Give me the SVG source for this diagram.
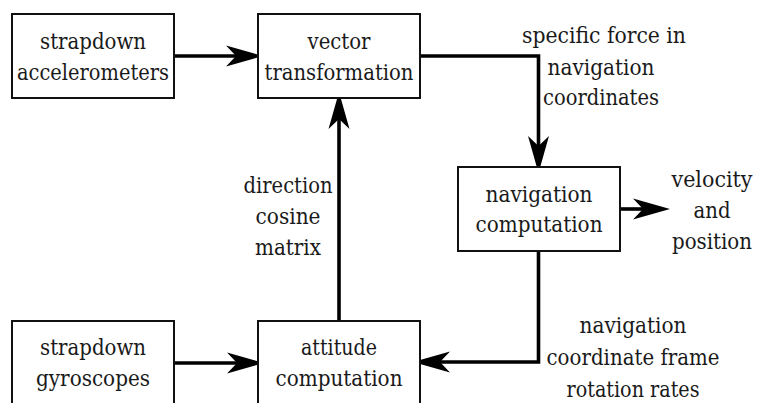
<svg xmlns="http://www.w3.org/2000/svg" width="760" height="403" viewBox="0 0 760 403">
  <style>
    .box { fill: #ffffff; stroke: #111111; stroke-width: 2; }
    .lbl { font-family: 'DejaVu Serif', 'Liberation Serif', 'Times New Roman', serif; font-size: 23px; fill: #1a1a1a; text-anchor: middle; }
    .wire { fill: none; stroke: #000000; stroke-width: 3.6; stroke-linejoin: miter; }
  </style>
  <defs>
    <!-- barbed arrowhead; origin sits at the notch where the line ends -->
    <marker id="arrow" markerUnits="userSpaceOnUse" viewBox="-12 -12 40 24" markerWidth="40" markerHeight="24" refX="0" refY="0" orient="auto">
      <path d="M27,0 L-10,-10.5 L0,0 L-10,10.5 Z" fill="#000000"/>
    </marker>
  </defs>

  <rect width="760" height="403" fill="#ffffff"/>

  <g id="connectors">
    <path class="wire" d="M174,56 H236" marker-end="url(#arrow)"/>
    <path class="wire" d="M174,363 H237" marker-end="url(#arrow)"/>
    <path class="wire" d="M420,56 H538.5 V146" marker-end="url(#arrow)"/>
    <path class="wire" d="M538.5,251 V362 H440" marker-end="url(#arrow)"/>
    <path class="wire" d="M339,321 V119" marker-end="url(#arrow)"/>
    <path class="wire" d="M621,209 H643" marker-end="url(#arrow)"/>
  </g>

  <g id="strapdown-accelerometers">
    <rect class="box" x="12" y="14" width="162" height="84"/>
    <text class="lbl" x="93" y="49" textLength="106" lengthAdjust="spacingAndGlyphs">strapdown</text>
    <text class="lbl" x="93" y="80" textLength="152" lengthAdjust="spacingAndGlyphs">accelerometers</text>
  </g>

  <g id="vector-transformation">
    <rect class="box" x="258" y="14" width="162" height="84"/>
    <text class="lbl" x="339" y="49" textLength="63" lengthAdjust="spacingAndGlyphs">vector</text>
    <text class="lbl" x="339" y="80" textLength="149" lengthAdjust="spacingAndGlyphs">transformation</text>
  </g>

  <g id="navigation-computation">
    <rect class="box" x="458" y="167" width="162" height="84"/>
    <text class="lbl" x="539" y="202" textLength="107" lengthAdjust="spacingAndGlyphs">navigation</text>
    <text class="lbl" x="539" y="232" textLength="127" lengthAdjust="spacingAndGlyphs">computation</text>
  </g>

  <g id="strapdown-gyroscopes">
    <rect class="box" x="12" y="321" width="162" height="84"/>
    <text class="lbl" x="93" y="355" textLength="106" lengthAdjust="spacingAndGlyphs">strapdown</text>
    <text class="lbl" x="93" y="386" textLength="114" lengthAdjust="spacingAndGlyphs">gyroscopes</text>
  </g>

  <g id="attitude-computation">
    <rect class="box" x="258" y="321" width="162" height="84"/>
    <text class="lbl" x="339" y="355" textLength="76" lengthAdjust="spacingAndGlyphs">attitude</text>
    <text class="lbl" x="339" y="386" textLength="127" lengthAdjust="spacingAndGlyphs">computation</text>
  </g>

  <g id="labels">
    <text class="lbl" x="604" y="43" textLength="164" lengthAdjust="spacingAndGlyphs">specific force in</text>
    <text class="lbl" x="601" y="75" textLength="107" lengthAdjust="spacingAndGlyphs">navigation</text>
    <text class="lbl" x="601" y="105" textLength="116" lengthAdjust="spacingAndGlyphs">coordinates</text>

    <text class="lbl" x="712" y="187" textLength="81" lengthAdjust="spacingAndGlyphs">velocity</text>
    <text class="lbl" x="712" y="218" textLength="37" lengthAdjust="spacingAndGlyphs">and</text>
    <text class="lbl" x="712" y="249" textLength="80" lengthAdjust="spacingAndGlyphs">position</text>

    <text class="lbl" x="288" y="193" textLength="89" lengthAdjust="spacingAndGlyphs">direction</text>
    <text class="lbl" x="288" y="224" textLength="65" lengthAdjust="spacingAndGlyphs">cosine</text>
    <text class="lbl" x="288" y="255" textLength="66" lengthAdjust="spacingAndGlyphs">matrix</text>

    <text class="lbl" x="633" y="333" textLength="107" lengthAdjust="spacingAndGlyphs">navigation</text>
    <text class="lbl" x="633" y="365" textLength="173" lengthAdjust="spacingAndGlyphs">coordinate frame</text>
    <text class="lbl" x="633" y="397" textLength="133" lengthAdjust="spacingAndGlyphs">rotation rates</text>
  </g>
</svg>
